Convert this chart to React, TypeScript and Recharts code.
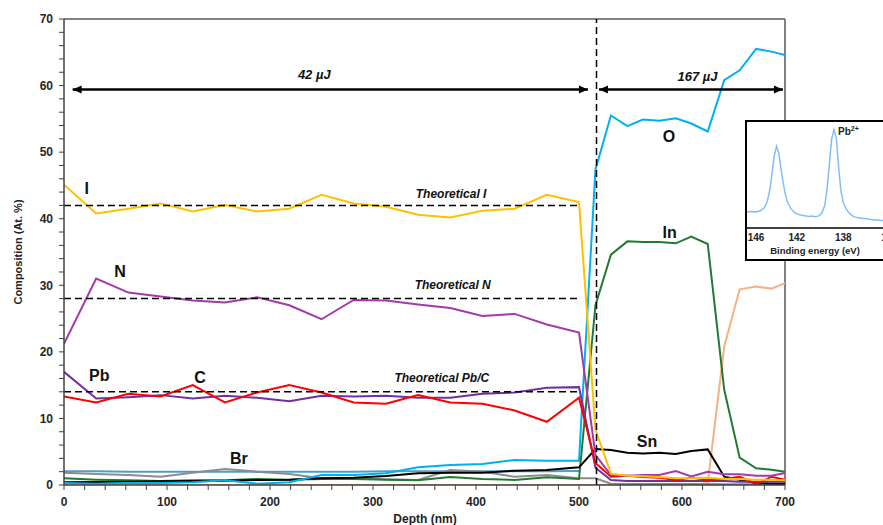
import React from 'react';
import { LineChart, Line, XAxis, YAxis, ReferenceLine, ReferenceDot } from 'recharts';

// ---------- main chart data ----------
const depth = [0, 31.25, 62.5, 93.75, 125, 156.25, 187.5, 218.75, 250, 281.25, 312.5, 343.75, 375, 406.25, 437.5, 468.75, 500,
  516, 531, 547, 562, 578, 594, 609, 625, 641, 656, 672, 687, 700];

const iodine = [45.1, 40.8, 41.5, 42.3, 41.1, 42.05, 41.1, 41.5, 43.6, 42.3, 41.8, 40.6, 40.2, 41.2, 41.5, 43.6, 42.5,
  8.3, 1.7, 1.4, 1.3, 1.2, 1.0, 1.0, 1.1, 0.9, 0.9, 0.8, 0.8, 0.7];
const nitrogen = [21.2, 31.0, 28.9, 28.3, 27.7, 27.4, 28.2, 27.0, 24.9, 27.8, 27.7, 27.1, 26.6, 25.4, 25.7, 24.1, 22.9,
  4.5, 1.5, 1.4, 1.5, 1.5, 2.1, 1.3, 2.0, 1.6, 1.6, 1.4, 1.4, 1.8];
const lead = [17.0, 13.0, 13.2, 13.5, 13.0, 13.4, 13.1, 12.6, 13.4, 13.3, 13.4, 13.1, 13.1, 13.7, 13.9, 14.6, 14.7,
  2.6, 0.75, 0.6, 0.6, 0.6, 0.6, 0.6, 0.6, 0.6, 0.5, 0.5, 0.5, 0.5];
const carbon = [13.3, 12.4, 13.7, 13.3, 15.0, 12.4, 13.9, 15.0, 13.9, 12.4, 12.2, 13.5, 12.4, 12.2, 11.2, 9.5, 13.1,
  3.3, 1.25, 1.4, 1.2, 1.1, 0.75, 1.1, 0.8, 0.9, 1.25, 0.15, 1.25, 0.8];
const oxygen = [0.3, 0.2, 0.3, 0.3, 0.4, 0.7, 0.2, 0.4, 1.5, 1.5, 1.75, 2.65, 3.0, 3.15, 3.75, 3.65, 3.65,
  47.4, 55.5, 53.9, 54.9, 54.7, 55.1, 54.3, 53.1, 60.8, 62.3, 65.5, 65.1, 64.6];
const indium = [1.0, 0.8, 0.7, 0.6, 0.7, 0.7, 0.9, 0.8, 0.9, 0.9, 0.8, 0.7, 1.2, 0.9, 0.75, 1.15, 0.9,
  27.0, 34.6, 36.6, 36.5, 36.5, 36.3, 37.3, 36.2, 14.3, 4.1, 2.5, 2.3, 2.0];
const tin = [0.4, 0.45, 0.5, 0.55, 0.6, 0.65, 0.75, 0.8, 1.0, 1.1, 1.35, 1.75, 1.85, 1.85, 2.15, 2.25, 2.65,
  5.4, 5.25, 4.85, 4.75, 4.85, 4.65, 5.1, 5.35, 1.25, 0.8, 0.3, 0.2, 0.2];
const bromine = [1.85, 1.65, 1.5, 1.25, 1.85, 2.4, 2.0, 1.65, 1.0, 1.0, 0.85, 0.75, 2.25, 2.0, 1.25, 1.5, 1.0,
  1.0, 0.2, 0.15, 0.15, 0.15, 0.15, 0.15, 0.15, 0.1, 0.1, 0.1, 0.1, 0.1];
const other = [2.05, 2.05, 2.0, 2.0, 2.0, 2.0, 2.0, 2.0, 2.0, 2.0, 2.05, 2.05, 2.05, 2.05, 2.05, 2.05, 2.1,
  null, null, null, null, null, null, null, null, null, null, null, null, null];
const silicon = [0, 0, 0, 0, 0, 0, 0, 0, 0, 0, 0, 0, 0, 0, 0, 0, 0,
  0, 0, 0, 0, 0, 0, 0, 0.3, 20.8, 29.4, 29.8, 29.5, 30.3];

const xMajor = [0, 100, 200, 300, 400, 500, 600, 700];
const yMajor = [0, 10, 20, 30, 40, 50, 60, 70];
const xTicks = Array.from({ length: 36 }, (_, i) => i * 20);
const yTicks = Array.from({ length: 36 }, (_, i) => i * 2);

// theoretical values (drawn over 0..500 nm)
const theoretical = [
  { label: 'Theoretical I', value: 42, lx: 375.8, ly: 43.7 },
  { label: 'Theoretical N', value: 28, lx: 377.4, ly: 30.1 },
  { label: 'Theoretical Pb/C', value: 14, lx: 366.8, ly: 16.0 },
];
const theoreticalRange = [0, 500];
const interfaceDepth = 517;

const arrowY = 59.4;
const arrow42 = [8.4, 508.7];
const arrow167 = [519.4, 698];
const energyLabels = [
  { text: '42 µJ', x: 243, y: 61.65 },
  { text: '167 µJ', x: 615, y: 61.3 },
];

const elementLabels = [
  { text: 'I', x: 22, y: 44.6 },
  { text: 'N', x: 54.4, y: 32.0 },
  { text: 'Pb', x: 34.3, y: 16.4 },
  { text: 'C', x: 132, y: 16.2 },
  { text: 'Br', x: 169.7, y: 4.0 },
  { text: 'O', x: 587.4, y: 52.4 },
  { text: 'In', x: 588, y: 38.0 },
  { text: 'Sn', x: 566, y: 6.5 },
];

// ---------- inset (Pb 4f spectrum) ----------
const bindingEnergy = [146.3, 145.9, 145.5, 145.1, 144.8, 144.55, 144.3, 144.1, 143.95, 143.75, 143.55, 143.4, 143.2, 143.0,
  142.8, 142.5, 142.2, 141.9, 141.6, 141.3, 141.0, 140.7, 140.4, 140.1, 139.85, 139.6, 139.4, 139.2, 139.0, 138.8, 138.6,
  138.4, 138.2, 138.0, 137.7, 137.4, 137.1, 136.8, 136.4, 136.0, 135.6, 135.2, 134.8, 134.4, 134.0, 133.6, 133.2];
const intensity = [15.4, 15.6, 15.2, 16.5, 19, 25, 38, 55, 68, 77, 70, 58, 44, 32,
  24, 18, 14.5, 13, 12, 11.5, 10.8, 11.3, 10.6, 11.4, 14, 21, 36, 60, 84, 92.5, 85,
  58, 35, 24, 17, 13, 10.7, 9.8, 9.3, 8.8, 8.0, 7.6, 7.2, 6.9, 6.8, 6.6, 6.5];
const insetTicks = [146, 142, 138, 134];

const data = depth.map((d, i) => ({
  depth: d,
  I: iodine[i], N: nitrogen[i], Pb: lead[i], C: carbon[i], O: oxygen[i],
  In: indium[i], Sn: tin[i], Br: bromine[i], Other: other[i], Si: silicon[i],
}));
const insetData = bindingEnergy.map((b, i) => ({ be: b, cps: intensity[i] }));

const FONT = '"Liberation Sans", Arial, sans-serif';

const series = [
  { key: 'Si', color: '#F4B183' },
  { key: 'Other', color: '#4A9FCB' },
  { key: 'Br', color: '#8C8C8C' },
  { key: 'In', color: '#217A33' },
  { key: 'Sn', color: '#000000' },
  { key: 'O', color: '#00B0F0' },
  { key: 'Pb', color: '#7030A0' },
  { key: 'C', color: '#FF0000' },
  { key: 'N', color: '#A23AA8' },
  { key: 'I', color: '#FFC000' },
];

const textShape = (text: string, size: number, italic: boolean) => (p: any) => (
  <text x={p.cx} y={p.cy} textAnchor="middle" dominantBaseline="central" fontSize={size}
    fontWeight={700} fontStyle={italic ? 'italic' : 'normal'} fill="#111" fontFamily={FONT}>{text}</text>
);

const headLeft = (p: any) => (
  <polygon points={`${p.cx},${p.cy} ${p.cx + 9},${p.cy - 4} ${p.cx + 9},${p.cy + 4}`} fill="#000" />
);
const headRight = (p: any) => (
  <polygon points={`${p.cx},${p.cy} ${p.cx - 9},${p.cy - 4} ${p.cx - 9},${p.cy + 4}`} fill="#000" />
);

const InsetTick = (p: any) => {
  const x = Math.max(p.x, 9);
  return (
    <text x={x} y={p.y} dy="0.71em" textAnchor="middle" fontSize={10} fontWeight={700} fill="#222" fontFamily={FONT}>
      {p.payload.value}
    </text>
  );
};

export default function App() {
  return (
    <div style={{ position: 'fixed', left: 0, top: 0, width: 883, height: 525, overflow: 'hidden', background: '#fff', fontFamily: FONT }}>
      <div style={{ position: 'absolute', left: 0, top: 0 }}>
        <LineChart width={883} height={525} data={data} margin={{ top: 19, right: 98, bottom: 10, left: 14 }}>
          <XAxis dataKey="depth" type="number" domain={[0, 700]} ticks={xTicks} interval={0}
            tickFormatter={(v: number) => (xMajor.includes(v) ? String(v) : '')}
            tick={{ fontSize: 12, fontWeight: 700, fill: '#262626', fontFamily: FONT }}
            tickSize={5} tickMargin={7} height={30}
            axisLine={{ stroke: '#404040', strokeWidth: 1.5 }} tickLine={{ stroke: '#404040' }} allowDataOverflow />
          <YAxis type="number" domain={[0, 70]} ticks={yTicks} interval={0} width={50}
            tickFormatter={(v: number) => (yMajor.includes(v) ? String(v) : '')}
            tick={{ fontSize: 12, fontWeight: 700, fill: '#262626', fontFamily: FONT }}
            tickSize={5} tickMargin={6}
            axisLine={{ stroke: '#404040', strokeWidth: 1.5 }} tickLine={{ stroke: '#404040' }} allowDataOverflow />
          <ReferenceLine y={70} stroke="#595959" strokeWidth={1.5} />
          <ReferenceLine x={700} stroke="#595959" strokeWidth={1.5} />
          {series.map((s) => (
            <Line key={s.key} dataKey={s.key} type="linear" stroke={s.color} strokeWidth={2}
              dot={false} activeDot={false} isAnimationActive={false} connectNulls={false} />
          ))}
          {theoretical.map((t) => (
            <ReferenceLine key={t.label}
              segment={[{ x: theoreticalRange[0], y: t.value }, { x: theoreticalRange[1], y: t.value }]}
              stroke="#000" strokeWidth={1.5} strokeDasharray="7 4" />
          ))}
          <ReferenceLine x={interfaceDepth} stroke="#000" strokeWidth={1.5} strokeDasharray="7 4" />
          <ReferenceLine segment={[{ x: arrow42[0], y: arrowY }, { x: arrow42[1], y: arrowY }]} stroke="#000" strokeWidth={2.5} />
          <ReferenceLine segment={[{ x: arrow167[0], y: arrowY }, { x: arrow167[1], y: arrowY }]} stroke="#000" strokeWidth={2.5} />
          <ReferenceDot x={arrow42[0]} y={arrowY} r={1} shape={headLeft} />
          <ReferenceDot x={arrow42[1]} y={arrowY} r={1} shape={headRight} />
          <ReferenceDot x={arrow167[0]} y={arrowY} r={1} shape={headLeft} />
          <ReferenceDot x={arrow167[1]} y={arrowY} r={1} shape={headRight} />
          {theoretical.map((t) => (
            <ReferenceDot key={'l' + t.label} x={t.lx} y={t.ly} r={1} shape={textShape(t.label, 12, true)} />
          ))}
          {energyLabels.map((e) => (
            <ReferenceDot key={e.text} x={e.x} y={e.y} r={1} shape={textShape(e.text, 13, true)} />
          ))}
          {elementLabels.map((e) => (
            <ReferenceDot key={e.text} x={e.x} y={e.y} r={1} shape={textShape(e.text, 16, false)} />
          ))}
        </LineChart>
      </div>

      <div style={{ position: 'absolute', left: 745, top: 120, width: 160, height: 137, border: '2px solid #000', background: '#fff' }}>
        <LineChart width={160} height={137} data={insetData} margin={{ top: 2, right: 0, bottom: 0, left: 0 }}>
          <XAxis dataKey="be" type="number" domain={[132.5, 146.3]} reversed ticks={insetTicks} interval={0}
            tick={<InsetTick />}
            tickLine={false} tickSize={4} tickMargin={2} height={31}
            axisLine={{ stroke: '#000', strokeWidth: 1.5 }} allowDataOverflow />
          <YAxis type="number" domain={[0, 98]} hide allowDataOverflow />
          <Line dataKey="cps" type="linear" stroke="#85BEF7" strokeWidth={1.5} dot={false} activeDot={false} isAnimationActive={false} />
          <ReferenceDot x={138.45} y={90.8} r={1} shape={(p: any) => (
            <text x={p.cx} y={p.cy} dominantBaseline="central" fontSize={10} fontWeight={700} fill="#222" fontFamily={FONT}>
              Pb<tspan dy={-4} fontSize={7}>2+</tspan>
            </text>
          )} />
        </LineChart>
      </div>

      <svg width={883} height={525} style={{ position: 'absolute', left: 0, top: 0, pointerEvents: 'none' }}>
        <text x={22} y={252} transform="rotate(-90 22 252)" textAnchor="middle" fontSize={11} fontWeight={700} fill="#222" fontFamily={FONT}>
          Composition (At. %)
        </text>
        <text x={425} y={523} textAnchor="middle" fontSize={12} fontWeight={700} fill="#222" fontFamily={FONT}>Depth (nm)</text>
        <text x={815} y={254} textAnchor="middle" fontSize={9.5} fontWeight={700} fill="#222" fontFamily={FONT}>Binding energy (eV)</text>
      </svg>
    </div>
  );
}
